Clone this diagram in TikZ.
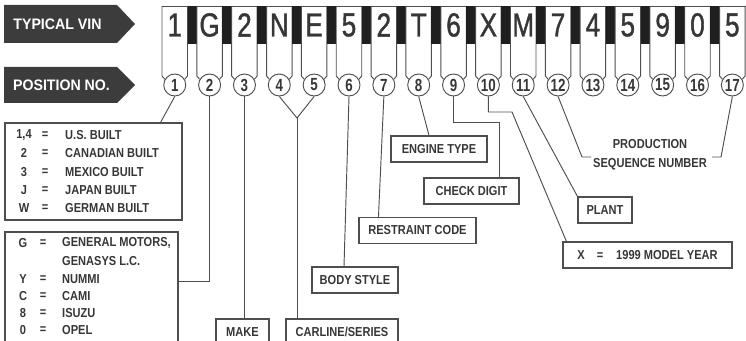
\documentclass[tikz,border=0pt]{standalone}
\usepackage{fontspec}
\usetikzlibrary{calc,positioning}
\newfontfamily\vinfont[FakeStretch=0.78,FakeBold=1.2]{Liberation Sans}
\newfontfamily\lblfont[FakeStretch=0.85]{Liberation Sans Bold}
\newfontfamily\numfont[FakeStretch=0.76]{Liberation Sans Bold}
\newfontfamily\banfont[FakeStretch=0.93]{Liberation Sans Bold}
\definecolor{ink}{HTML}{363636}
\definecolor{rule}{HTML}{4E4E4E}
\definecolor{banner}{HTML}{3C3C3C}
\definecolor{keybar}{HTML}{1F1F1F}
\tikzset{
  lbl/.style={font=\lblfont\fontsize{11.1}{13}\selectfont, text=ink, inner sep=0pt},
  tag/.style={lbl, draw=rule, line width=0.9pt, minimum height=7.8mm},
  wire/.style={draw=rule, line width=0.8pt},
  ban/.style={font=\banfont\fontsize{13}{13}\selectfont, text=white, inner sep=0pt},
  posnum/.style={circle, draw=rule, line width=0.8pt, fill=white, minimum size=6.6mm, inner sep=0pt,
    font=\numfont\fontsize{15}{15}\selectfont, text=ink},
}

\begin{document}
\begin{tikzpicture}[x=0.3mm, y=-0.3mm]
  \useasboundingbox (0,0) rectangle (746,341);
  \clip (0,0) rectangle (746,341);

  \fill[banner] (4,5) -- (117,5) -- (135,24) -- (117,43) -- (4,43) -- cycle;
  \node[ban] (typ) at (57.5,24) {TYPICAL VIN};
  \fill[banner] (4,67) -- (117,67) -- (135,85) -- (117,103) -- (4,103) -- cycle;
  \node[ban] (posno) at (61.5,85) {POSITION NO.};

  \draw[wire] (162,6) -- (746,6);
  \foreach \ch [count=\i] in {1,G,2,N,E,5,2,T,6,X,M,7,4,5,9,0,5}{
    \pgfmathsetmacro\lx{162+34.85*(\i-1)}
    \pgfmathsetmacro\rx{\lx+25.5}
    \node[posnum] (p\i) at (\lx+12.75,85) {\i};
    \draw[wire] (\lx,6) -- (\lx,76) -- (p\i.150);
    \draw[wire] (\rx,6) -- (\rx,76) -- (p\i.30);
    \ifnum\i<17 \fill[keybar] (\rx,6) rectangle (\lx+34.85,44); \fi
    \node[font=\vinfont\fontsize{28.5}{30}\selectfont, text=ink, inner sep=0pt] (v\i) at (\lx+12.75,25) {\ch};
  }

  \node[tag, minimum width=53.1mm, minimum height=29.1mm] (country) at (93.5,171.5) {};
  \foreach \code/\entry/\y [count=\k] in {{1,4}/U.S. BUILT/135, 2/CANADIAN BUILT/153,
      3/MEXICO BUILT/172, J/JAPAN BUILT/190, W/GERMAN BUILT/208}{
    \node[lbl] (ca\k) at (24,\y) {\code};
    \node[lbl] (ea\k) at (45,\y) {=};
    \node[lbl, anchor=west] (ta\k) at (65,\y) {\entry};
  }
  \node[tag, minimum width=51.9mm, minimum height=38.4mm] (maker) at (91.5,296) {};
  \foreach \code/\entry/\y [count=\k] in {G/{GENERAL MOTORS,}/243, Y/NUMMI/279,
      C/CAMI/296, 8/ISUZU/313, 0/OPEL/330}{
    \node[lbl] (cb\k) at (23,\y) {\code};
    \node[lbl] (eb\k) at (43,\y) {=};
    \node[lbl, anchor=west] (tb\k) at (62,\y) {\entry};
  }
  \node[lbl, anchor=west] (genasys) at (62,261) {GENASYS L.C.};

  \node[tag, minimum width=15.9mm] (make) at (242.5,332) {MAKE};
  \node[tag, minimum width=33.6mm] (carline) at (342,332) {CARLINE/SERIES};
  \node[tag, minimum width=25.8mm] (body) at (355,280) {BODY STYLE};
  \node[tag, minimum width=35.1mm] (restraint) at (417.5,230.5) {RESTRAINT CODE};
  \node[tag, minimum width=28.8mm] (engine) at (439,149) {ENGINE TYPE};
  \node[tag, minimum width=28.5mm] (check) at (471.5,191) {CHECK DIGIT};
  \node[tag, minimum width=16.2mm] (plant) at (605,210) {PLANT};
  \node[tag, minimum width=50.7mm] (year) at (647.5,255) {X\hspace{3.6mm}=\hspace{3.9mm}1999 MODEL YEAR};
  \node[lbl, align=center, font=\lblfont\fontsize{11.1}{16.2}\selectfont] (prod) at (650,155) {PRODUCTION\\SEQUENCE NUMBER};

  \draw[wire] (p1.south) -- ($(country.north east)+(-22,0)$);
  \coordinate (mk) at ($(maker.north east)+(0,50)$);
  \draw[wire] (p2.south) |- (mk);
  \draw[wire] (p3.south) -- (p3.south |- make.north);
  \coordinate (v45) at (297,118);
  \draw[wire] (p4.south) -- (v45) -- (p5.south);
  \draw[wire] (v45) -- (v45 |- carline.north);
  \draw[wire] (p6.south) -- ($(body.north)+(-11,0)$);
  \draw[wire] (p7.south) -- ($(restraint.north west)+(20,0)$);
  \draw[wire] (p8.south) -- ($(engine.north)+(-10,0)$);
  \coordinate (k9) at (499,122);
  \draw[wire] (p9.south) |- (k9) -- (k9 |- check.north);
  \coordinate (k10) at (512,112);
  \draw[wire] (p10.south) |- (k10) -- ($(year.north west)+(4,0)$);
  \draw[wire] (p11.south) -- (plant.north west);
  \coordinate (b12) at (582,157);
  \coordinate (b17) at (721,157);
  \draw[wire] (p12.south) -- (b12) -- ++(9,0);
  \draw[wire] (p17.south) -- (b17) -- ++(-9,0);
\end{tikzpicture}
\end{document}
